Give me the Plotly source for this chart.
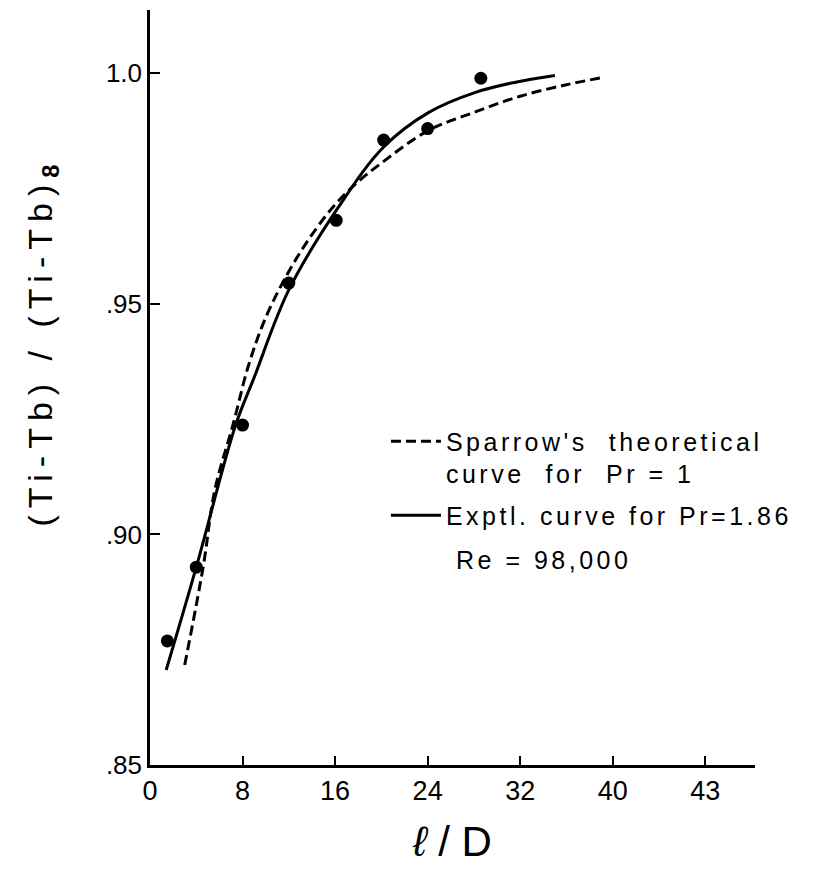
import plotly.graph_objects as go

# Experimental data points
pts_x = [1.5, 4.0, 8.0, 12.0, 16.1, 20.2, 24.0, 28.6]
pts_y = [0.8769, 0.8929, 0.9237, 0.9545, 0.9681, 0.9855, 0.9880, 0.9989]

# Experimental curve (solid), Pr = 1.86
exp_x = [1.4, 4.0, 7.4, 9.0, 12.0, 16.3, 20.2, 24.1, 28.2, 31.5, 35.0]
exp_y = [0.8706, 0.8929, 0.9237, 0.9340, 0.9530, 0.9710, 0.9840, 0.9915, 0.9959, 0.9980, 0.9995]

# Sparrow's theoretical curve (dashed), Pr = 1
th_x = [3.0, 4.6, 5.6, 7.2, 8.5, 10.0, 12.0, 14.0, 16.0, 18.0, 20.0, 24.0, 28.0, 32.0, 36.0, 39.0]
th_y = [0.8717, 0.8930, 0.9096, 0.9240, 0.9365, 0.9470, 0.9570, 0.9650, 0.9715, 0.9765, 0.9805, 0.9875, 0.9915, 0.9950, 0.9975, 0.9990]

x_tickvals = [0, 8, 16, 24, 32, 40, 48]
x_ticktext = ["0", "8", "16", "24", "32", "40", "43"]
y_tickvals = [0.85, 0.90, 0.95, 1.0]
y_ticktext = [".85", ".90", ".95", "1.0"]

FONT = "Liberation Sans"
LS = "letter-spacing:3.5px"

fig = go.Figure()
fig.add_trace(go.Scatter(
    x=th_x, y=th_y, mode="lines", line_shape="spline",
    line=dict(color="black", width=3, dash="10px,5px"),
    name=f"<span style='{LS}'>Sparrow's  theoretical<br>curve  for  Pr = 1</span>",
    legendgroup="a",
))
fig.add_trace(go.Scatter(
    x=exp_x, y=exp_y, mode="lines", line_shape="spline",
    line=dict(color="black", width=3),
    name=f"<span style='{LS}'>Exptl. curve for Pr=1.86</span>",
    legendgroup="b",
))
fig.add_trace(go.Scatter(
    x=pts_x, y=pts_y, mode="markers",
    marker=dict(color="black", size=13),
    showlegend=False,
))

fig.add_annotation(
    x=0.503, y=0.272, xref="paper", yref="paper", xanchor="left", yanchor="middle",
    text=f"<span style='{LS}'>Re = 98,000</span>", showarrow=False,
    font=dict(family=FONT, size=25, color="black"),
)

# y-axis title
fig.add_annotation(
    x=-0.178, y=0.556, xref="paper", yref="paper", xanchor="center", yanchor="middle",
    text="<span style='letter-spacing:7px'>(Ti-Tb) / (Ti-Tb)</span><sub><b>8</b></sub>",
    textangle=-90, showarrow=False,
    font=dict(family=FONT, size=34, color="black"),
)

fig.update_layout(
    width=820, height=871,
    margin=dict(l=142, r=73, t=2, b=114),
    paper_bgcolor="white", plot_bgcolor="white",
    font=dict(family=FONT, color="black"),
    showlegend=True,
    legend=dict(
        x=0.39, y=0.459, xanchor="left", yanchor="top",
        font=dict(family=FONT, size=25, color="black"),
        valign="top", bgcolor="rgba(0,0,0,0)",
        traceorder="grouped", tracegroupgap=6,
        itemwidth=50,
    ),
    xaxis=dict(
        range=[0, 52.3], tickvals=x_tickvals, ticktext=x_ticktext,
        showline=True, linecolor="black", linewidth=2.5,
        ticks="inside", ticklen=9, tickwidth=1.5, tickcolor="black",
        showgrid=False, zeroline=False, automargin=False,
        tickfont=dict(family=FONT, size=27),
        title=dict(text="<i>ℓ</i> / D", font=dict(family=FONT, size=42), standoff=22),
    ),
    yaxis=dict(
        range=[0.85, 1.0137], tickvals=y_tickvals, ticktext=y_ticktext,
        showline=True, linecolor="black", linewidth=2.5,
        ticks="inside", ticklen=10, tickwidth=1.5, tickcolor="black",
        showgrid=False, zeroline=False, automargin=False,
        tickfont=dict(family=FONT, size=26),
    ),
)

fig.write_html("out.html")
